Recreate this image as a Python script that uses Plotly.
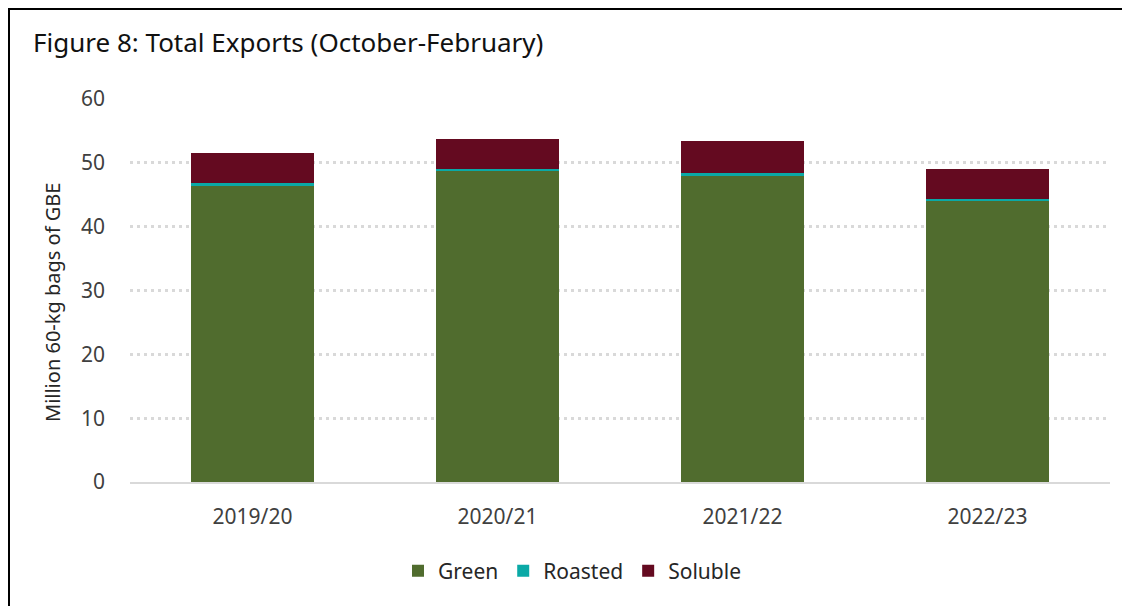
import plotly.graph_objects as go

categories = ["2019/20", "2020/21", "2021/22", "2022/23"]
green = [46.4, 48.8, 48.0, 44.1]
roasted = [0.4, 0.2, 0.4, 0.25]
soluble = [4.7, 4.7, 5.0, 4.65]
series_names = ["Green", "Roasted", "Soluble"]
colors = ["#506c2e", "#0aa9a6", "#640a20"]
y_ticks = [0, 10, 20, 30, 40, 50, 60]

# page body has an 8px margin; compensate so the plot area lands at screen x 130..1110, y 99..482
OFF = 8
W, H = 1122, 598
PL, PT, PW, PH = 130, 99, 980, 383
L, T = PL - OFF, PT - OFF
R = W - L - PW
B = H - T - PH


def px_x(px):
    return (px - PL) / PW


def px_y(py):
    return (PT + PH - py) / PH


fig = go.Figure()
for name, vals, col in zip(series_names, [green, roasted, soluble], colors):
    fig.add_trace(go.Bar(x=categories, y=vals, name=name, marker=dict(color=col, line=dict(width=0))))

FONT = "Noto Sans"
fig.update_layout(
    width=W, height=H,
    margin=dict(l=L, r=R, t=T, b=B, autoexpand=False),
    barmode="stack", bargap=0.5,
    plot_bgcolor="white", paper_bgcolor="white",
    font=dict(family=FONT, size=21, color="#262626"),
    title=dict(text="Figure 8: Total Exports (October-February)", x=(33 - OFF) / W, xanchor="left",
               xref="container", y=1 - (43 - OFF) / H, yref="container", yanchor="middle",
               font=dict(family=FONT, size=26, color="#111111")),
    legend=dict(orientation="h", x=px_x(572), xanchor="center", y=px_y(571), yanchor="middle",
                font=dict(family=FONT, size=21, color="#262626"), traceorder="normal"),
    showlegend=True,
)
fig.update_yaxes(range=[0, 60], tickvals=y_ticks, showgrid=True, gridcolor="#d9d9d9", griddash="3px,4px",
                 gridwidth=3, zeroline=False, showline=False, ticks="", ticklabelstandoff=24,
                 tickfont=dict(family=FONT, size=21, color="#404040"))
fig.update_xaxes(showline=True, linecolor="#d9d9d9", linewidth=2, ticks="", ticklabelstandoff=15,
                 tickfont=dict(family=FONT, size=21, color="#404040"))

fig.add_annotation(text="Million 60-kg bags of GBE", textangle=-90, x=px_x(52), y=px_y(303),
                   xref="paper", yref="paper", xanchor="center", yanchor="middle", showarrow=False,
                   font=dict(family=FONT, size=20, color="#262626"))

# frame lines (top and left) just inside the drawable page area
fig.add_shape(type="line", xref="paper", yref="paper", x0=px_x(9), x1=px_x(9), y0=px_y(620), y1=px_y(8),
              line=dict(color="black", width=2))
fig.add_shape(type="line", xref="paper", yref="paper", x0=px_x(8), x1=px_x(1140), y0=px_y(9), y1=px_y(9),
              line=dict(color="black", width=2))

fig.write_html("out.html")
